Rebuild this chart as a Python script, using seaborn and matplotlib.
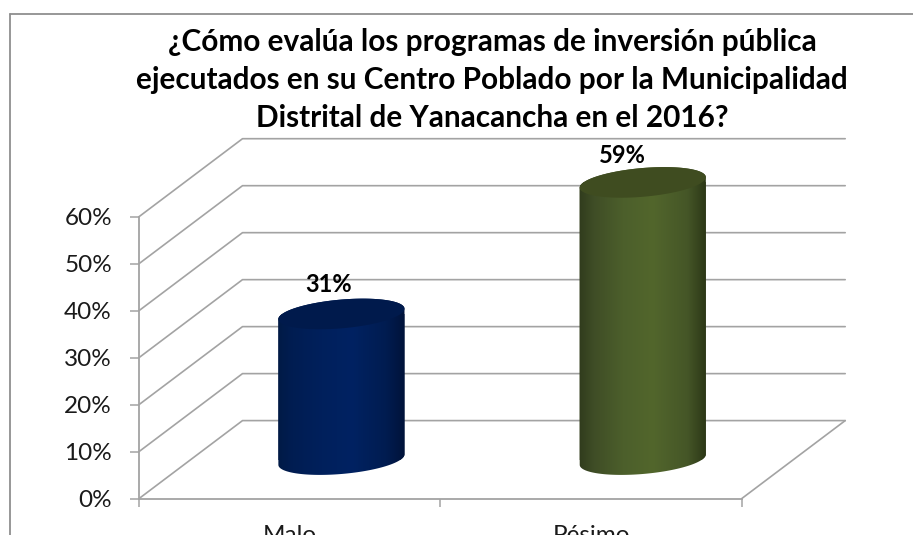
import numpy as np
import pandas as pd
import seaborn as sns
import matplotlib
matplotlib.use("Agg")
import matplotlib.pyplot as plt
from matplotlib.colors import to_rgb
from matplotlib.lines import Line2D
from matplotlib.path import Path
from matplotlib.patches import Polygon
from matplotlib.ticker import PercentFormatter, FixedLocator
from matplotlib.transforms import Affine2D, IdentityTransform

# ---- data ----
categories = ["Malo", "Pésimo"]
values = [0.31, 0.59]
value_labels = ["31%", "59%"]
y_ticks = [0.0, 0.1, 0.2, 0.3, 0.4, 0.5, 0.6]
title_text = ("¿Cómo evalúa los programas de inversión pública\n"
              "ejecutados en su Centro Poblado por la Municipalidad\n"
              "Distrital de Yanacancha en el 2016?")

# ---- styles ----
W, H = 913, 535
GRID = "#a3a3a3"
FRAME = "#8f8f8f"
STOPS = [0.0, 0.12, 0.35, 0.58, 0.85, 1.0]
BODY = {
    "Malo": ["#001a45", "#001d52", "#00205c", "#002262", "#001c50", "#001238"],
    "Pésimo": ["#2f3a1c", "#3f4d26", "#4c5f2b", "#52662c", "#455627", "#2b3616"],
}
CAP = {"Malo": "#001a4c", "Pésimo": "#3f4c20"}
LABEL_OFFSETS = {"Malo": (-9, 21), "Pésimo": (-15, 19.5)}   # points from the cap centre
DEPTH = (103.5, 78.0)      # 3D look: depth shift of the back wall, in pixels
TILT = np.radians(5.0)
MINOR_RATIO = 14.5 / 64.0

sns.set_theme(style="white")
plt.rcParams["font.family"] = ["Lato", "DejaVu Sans"]

fig = plt.figure(figsize=(W / 100, H / 100), dpi=100, facecolor="white")
ax = fig.add_axes([139 / W, (H - 498.6) / H, (741.7 - 139) / W, (498.6 - 216.7) / H])
ax.patch.set_alpha(0)

df = pd.DataFrame({"categoria": categories, "valor": values})
sns.barplot(data=df, x="categoria", y="valor", hue="categoria",
            palette=[CAP[c] for c in categories], width=0.42, dodge=False,
            legend=False, linewidth=0, ax=ax, zorder=3)
ax.set_xlim(-0.5, 1.5)
ax.set_ylim(0, 0.6)
ax.set_xlabel("")
ax.set_ylabel("")

# axes, ticks
ax.yaxis.set_major_locator(FixedLocator(y_ticks))
ax.yaxis.set_major_formatter(PercentFormatter(1, decimals=0))
ax.xaxis.set_minor_locator(FixedLocator([-0.5, 0.5, 1.5]))
ax.tick_params(axis="y", left=True, length=6.5, width=1.1, color=GRID,
               labelsize=17.5, labelcolor="#1a1a1a", pad=13)
ax.tick_params(axis="x", which="major", bottom=False, length=0,
               labelsize=17.5, labelcolor="#1a1a1a", pad=19)
ax.tick_params(axis="x", which="minor", bottom=True, length=5.5, width=1.1, color=GRID)
sns.despine(ax=ax, top=True, right=True)
for s in ("left", "bottom"):
    ax.spines[s].set_color(GRID)
    ax.spines[s].set_linewidth(1.3)

# walls and floor, derived from the axis scales
fig.canvas.draw()
identity = IdentityTransform()
dx, dy = DEPTH
xmin, xmax = ax.get_xlim()
for t in y_ticks:
    (x0, y0), (x1, _) = ax.transData.transform([(xmin, t), (xmax, t)])
    ax.add_line(Line2D([x0, x0 + dx, x1 + dx], [y0, y0 + dy, y0 + dy], transform=identity,
                       color=GRID, lw=1.2, clip_on=False, zorder=1))
    if t == y_ticks[0]:
        ax.add_line(Line2D([x1 + dx, x1], [y0 + dy, y0], transform=identity,
                           color=GRID, lw=1.2, clip_on=False, zorder=1))


def tilted(cx, cy, a, b, theta):
    return np.column_stack([
        cx + a * np.cos(theta) * np.cos(TILT) - b * np.sin(theta) * np.sin(TILT),
        cy + a * np.cos(theta) * np.sin(TILT) + b * np.sin(theta) * np.cos(TILT),
    ])


# cylinders built on the bars seaborn drew
bars = list(ax.patches)
shift = ax.transData + Affine2D().translate(dx / 2, dy / 2)
for bar, cat, label in zip(bars, categories, value_labels):
    bx, by, bw, bh = bar.get_x(), bar.get_y(), bar.get_width(), bar.get_height()
    (l, base), (r, top) = shift.transform([(bx, by), (bx + bw, by + bh)])
    cx, a = (l + r) / 2, (r - l) / 2
    b = a * MINOR_RATIO
    th0 = np.arctan2(-b * np.sin(TILT), a * np.cos(TILT))
    lower = tilted(cx, base, a, b, np.linspace(th0 + np.pi, th0 + 2 * np.pi, 80))
    upper = tilted(cx, top, a, b, np.linspace(th0, th0 + np.pi, 80))
    outline = np.vstack([lower, upper])
    body_path = Path(np.vstack([outline, outline[0]]), closed=True)

    bar.set_transform(shift)
    bar.set_clip_box(fig.bbox)
    bar.set_clip_path(body_path, identity)

    xs = np.linspace(0, 1, 256)
    rgb = np.array([to_rgb(c) for c in BODY[cat]])
    grad = np.stack([np.interp(xs, STOPS, rgb[:, i]) for i in range(3)], axis=-1)[None, :, :]
    extent = (l - 1, r + 1, base - b - 3, top + b + 3)
    im = ax.imshow(grad, extent=extent, transform=identity, aspect="auto", zorder=4,
                   interpolation="bilinear")
    im.set_clip_box(fig.bbox)
    im.set_clip_path(body_path, identity)

    cap = tilted(cx, top, a, b, np.linspace(0, 2 * np.pi, 160))
    ax.add_patch(Polygon(cap, closed=True, transform=identity, facecolor=CAP[cat],
                         edgecolor="none", clip_on=False, zorder=5))

    ax.annotate(label, xy=(cx, top), xycoords=identity, xytext=LABEL_OFFSETS[cat],
                textcoords="offset points", ha="center", va="center",
                fontsize=17, fontweight="bold", color="black", zorder=6,
                annotation_clip=False)

ax.set_xlim(xmin, xmax)
ax.set_ylim(0, 0.6)

# title
fig.text(492 / W, (H - 80) / H, title_text, ha="center", va="center", fontsize=21.4,
         fontweight="bold", color="black", linespacing=1.44)

# chart frame, running off the picture at right and bottom
fig.add_artist(Line2D([9.5 / W, 9.5 / W], [0, (H - 13.5) / H], color=FRAME, lw=1.3))
fig.add_artist(Line2D([9.5 / W, 1], [(H - 13.5) / H, (H - 13.5) / H], color=FRAME, lw=1.3))

fig.savefig("out.png", dpi=100, facecolor="white")
